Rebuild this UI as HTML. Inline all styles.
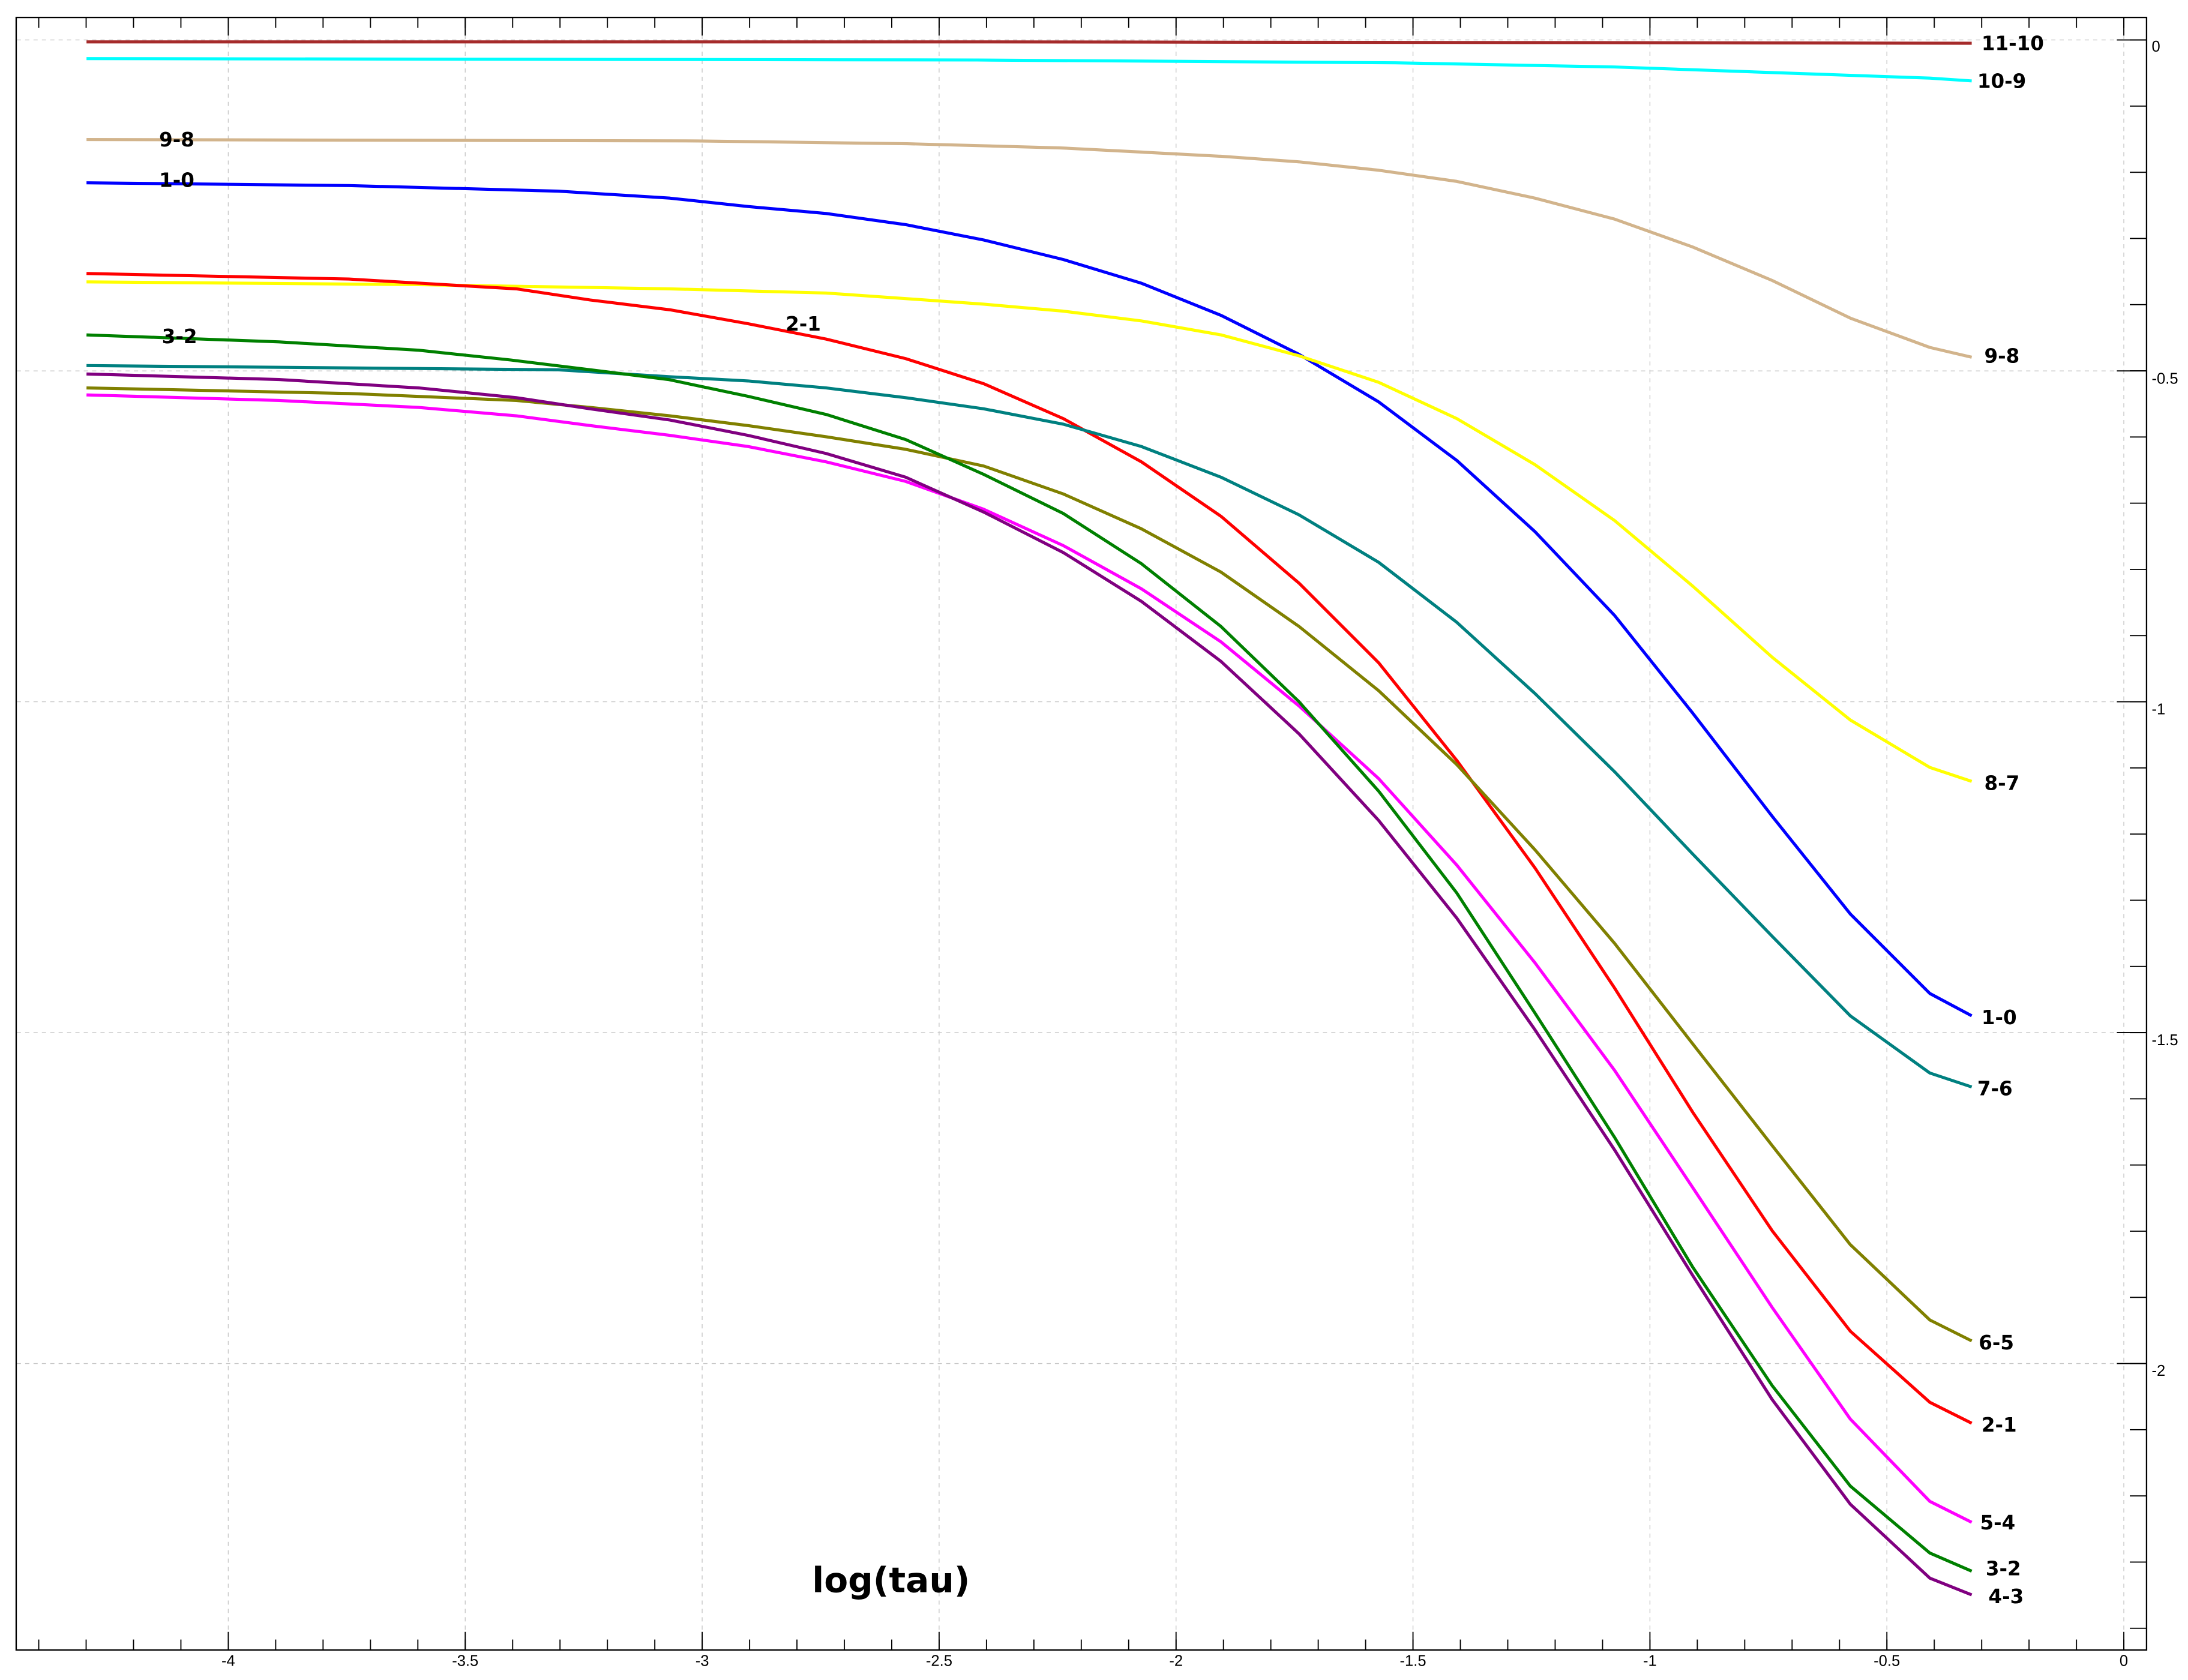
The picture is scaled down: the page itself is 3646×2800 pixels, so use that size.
<!DOCTYPE html>
<html><head><meta charset="utf-8"><style>html,body{margin:0;padding:0;background:#fff}svg{display:block}</style></head>
<body>
<svg width="3646" height="2800" viewBox="0 0 1568 1204" preserveAspectRatio="none" xmlns="http://www.w3.org/2000/svg" font-family="Liberation Sans, sans-serif">
<defs>
<pattern id="px" patternUnits="userSpaceOnUse" x="1521.6" y="0" width="33.96" height="1204"><rect x="0" y="0" width="0.8" height="1204" fill="#000"/></pattern>
<pattern id="py" patternUnits="userSpaceOnUse" x="0" y="28.2" width="1568" height="47.43"><rect x="0" y="0" width="1568" height="0.8" fill="#000"/></pattern>
</defs>
<rect width="1568" height="1204" fill="#fff"/>
<g stroke="#c8c8c8" stroke-width="0.6" stroke-dasharray="3,3">
<line x1="12" y1="28.6" x2="1522" y2="28.6"/><line x1="12" y1="265.8" x2="1522" y2="265.8"/><line x1="12" y1="502.9" x2="1522" y2="502.9"/><line x1="12" y1="740" x2="1522" y2="740"/><line x1="12" y1="977.2" x2="1522" y2="977.2"/>
<line x1="163.6" y1="13" x2="163.6" y2="1182"/><line x1="333.4" y1="13" x2="333.4" y2="1182"/><line x1="503.2" y1="13" x2="503.2" y2="1182"/><line x1="673" y1="13" x2="673" y2="1182"/><line x1="842.8" y1="13" x2="842.8" y2="1182"/><line x1="1012.6" y1="13" x2="1012.6" y2="1182"/><line x1="1182.4" y1="13" x2="1182.4" y2="1182"/><line x1="1352.2" y1="13" x2="1352.2" y2="1182"/><line x1="1522" y1="13" x2="1522" y2="1182"/>
</g>
<rect x="13" y="1175" width="1525" height="7.5" fill="url(#px)"/>
<rect x="13" y="12.5" width="1525" height="7.5" fill="url(#px)"/>
<rect x="1526.3" y="13" width="12" height="1169" fill="url(#py)"/>
<g stroke="#000" stroke-width="0.8">
<line x1="163.6" y1="1182.5" x2="163.6" y2="1169.5"/><line x1="333.4" y1="1182.5" x2="333.4" y2="1169.5"/><line x1="503.2" y1="1182.5" x2="503.2" y2="1169.5"/><line x1="673" y1="1182.5" x2="673" y2="1169.5"/><line x1="842.8" y1="1182.5" x2="842.8" y2="1169.5"/><line x1="1012.6" y1="1182.5" x2="1012.6" y2="1169.5"/><line x1="1182.4" y1="1182.5" x2="1182.4" y2="1169.5"/><line x1="1352.2" y1="1182.5" x2="1352.2" y2="1169.5"/><line x1="1522" y1="1182.5" x2="1522" y2="1169.5"/>
<line x1="163.6" y1="12.5" x2="163.6" y2="25.5"/><line x1="333.4" y1="12.5" x2="333.4" y2="25.5"/><line x1="503.2" y1="12.5" x2="503.2" y2="25.5"/><line x1="673" y1="12.5" x2="673" y2="25.5"/><line x1="842.8" y1="12.5" x2="842.8" y2="25.5"/><line x1="1012.6" y1="12.5" x2="1012.6" y2="25.5"/><line x1="1182.4" y1="12.5" x2="1182.4" y2="25.5"/><line x1="1352.2" y1="12.5" x2="1352.2" y2="25.5"/><line x1="1522" y1="12.5" x2="1522" y2="25.5"/>
<line x1="1538.3" y1="28.6" x2="1517" y2="28.6"/><line x1="1538.3" y1="265.8" x2="1517" y2="265.8"/><line x1="1538.3" y1="502.9" x2="1517" y2="502.9"/><line x1="1538.3" y1="740" x2="1517" y2="740"/><line x1="1538.3" y1="977.2" x2="1517" y2="977.2"/>
</g>
<rect x="11.6" y="12.5" width="1526.7" height="1170" fill="none" stroke="#000" stroke-width="1"/>
<g font-size="11" text-anchor="middle" fill="#000">
<text x="163.6" y="1194">-4</text><text x="333.4" y="1194">-3.5</text><text x="503.2" y="1194">-3</text><text x="673" y="1194">-2.5</text><text x="842.8" y="1194">-2</text><text x="1012.6" y="1194">-1.5</text><text x="1182.4" y="1194">-1</text><text x="1352.2" y="1194">-0.5</text><text x="1522" y="1194">0</text>
</g>
<g font-size="11" fill="#000">
<text x="1542" y="37">0</text><text x="1542" y="275">-0.5</text><text x="1542" y="512">-1</text><text x="1542" y="749">-1.5</text><text x="1542" y="986">-2</text>
</g>
<g fill="none" stroke-width="2.2" stroke-linejoin="round">
<polyline stroke="#a52a2a" points="62,30 700,30 1100,30.5 1413,31"/>
<polyline stroke="#00ffff" points="62,42 700,43 1000,45 1157,48 1270,52 1383,56 1413,58"/>
<polyline stroke="#d2b48c" points="62,100 500,101 650,103 760,106 818,109 875,112 931,116 988,122 1044,130 1100,142 1157,157 1213,177 1270,201 1326,228 1383,249 1413,256"/>
<polyline stroke="#0000ff" points="62,131 250,133 400,137 480,142 536,148 592,153 649,161 705,172 762,186 818,203 875,226 931,254 988,288 1044,330 1100,381 1157,441 1213,511 1270,585 1326,655 1383,712 1413,728"/>
<polyline stroke="#ffff00" points="62,202 300,204 480,207 592,210 649,214 705,218 762,223 818,230 875,240 931,255 988,274 1044,300 1100,333 1157,373 1213,420 1270,471 1326,516 1383,550 1413,560"/>
<polyline stroke="#ff0000" points="62,196 250,200 370,207 423,215 480,222 536,232 592,243 649,257 705,275 762,300 818,331 875,370 931,418 988,475 1044,545 1100,622 1157,708 1213,797 1270,882 1326,954 1383,1005 1413,1020"/>
<polyline stroke="#008080" points="62,262 400,265 480,270 536,273 592,278 649,285 705,293 762,304 818,320 875,342 931,369 988,403 1044,446 1100,497 1157,553 1213,612 1270,671 1326,728 1383,769 1413,779"/>
<polyline stroke="#808000" points="62,278 250,282 370,287 423,292 480,298 536,305 592,313 649,322 705,334 762,354 818,379 875,410 931,449 988,495 1044,548 1100,609 1157,676 1213,748 1270,821 1326,892 1383,946 1413,961"/>
<polyline stroke="#ff00ff" points="62,283 200,287 300,292 370,298 423,305 480,312 536,320 592,331 649,345 705,365 762,391 818,422 875,460 931,506 988,558 1044,620 1100,690 1157,767 1213,851 1270,937 1326,1017 1383,1076 1413,1091"/>
<polyline stroke="#008000" points="62,240 200,245 300,251 366,258 423,265 479,272 536,284 592,297 649,315 705,340 762,368 818,404 875,449 931,503 988,567 1044,640 1100,726 1157,815 1213,908 1270,993 1326,1065 1383,1113 1413,1126"/>
<polyline stroke="#800080" points="62,268 200,272 300,278 370,285 423,293 480,301 536,312 592,325 649,342 705,367 762,396 818,431 875,474 931,526 988,588 1044,658 1100,738 1157,824 1213,914 1270,1003 1326,1078 1383,1131 1413,1143"/>
</g>
<g font-size="14" font-weight="bold" fill="#000" font-family="DejaVu Sans, sans-serif">
<text x="114" y="105">9-8</text><text x="114" y="134">1-0</text><text x="116" y="246">3-2</text><text x="563" y="237">2-1</text>
<text x="1420" y="36">11-10</text><text x="1417" y="63">10-9</text><text x="1422" y="260">9-8</text><text x="1422" y="566">8-7</text><text x="1420" y="734">1-0</text><text x="1417" y="785">7-6</text><text x="1418" y="967">6-5</text><text x="1420" y="1026">2-1</text><text x="1419" y="1096">5-4</text><text x="1423" y="1129">3-2</text><text x="1425" y="1149">4-3</text>
</g>
<text x="582" y="1141" font-size="25" font-weight="bold" font-family="DejaVu Sans, sans-serif" fill="#000">log(tau)</text>
</svg>
</body></html>
